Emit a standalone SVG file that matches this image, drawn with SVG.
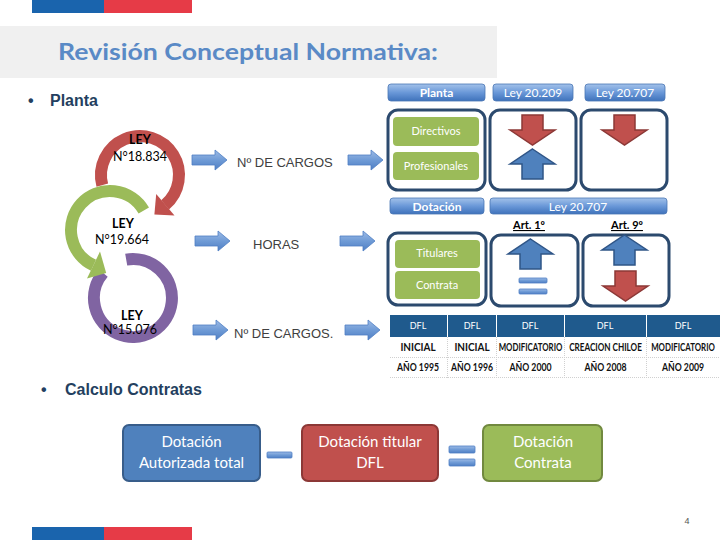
<svg xmlns="http://www.w3.org/2000/svg" width="720" height="540" viewBox="0 0 720 540">
<defs>
<linearGradient id="hdr" x1="0" y1="0" x2="0" y2="1">
<stop offset="0" stop-color="#a3c2ea"/><stop offset="0.5" stop-color="#6a98d8"/><stop offset="1" stop-color="#3f72bb"/>
</linearGradient>
<linearGradient id="arr" x1="0" y1="0" x2="0" y2="1">
<stop offset="0" stop-color="#9dbbe6"/><stop offset="0.5" stop-color="#6f9bd6"/><stop offset="1" stop-color="#4f7fc4"/>
</linearGradient>
<path id="rarrow" d="M0 5 H23 V0 L35 10 L23 20 V15 H0 Z"/>
<path id="down" d="M12 0 H33 V15 H45 L22.5 30 L0 15 H12 Z"/>
<path id="up" d="M22.5 0 L45 15 H33 V30 H12 V15 H0 Z"/>
</defs>
<style>
.t{font-family:Lato,"Liberation Sans",sans-serif}
.s{font-family:"Liberation Sans",Arial,sans-serif}
.hdr{fill:url(#hdr);stroke:#4a76b4;stroke-width:0.8}
.ht{fill:#fff;font-size:12px;text-anchor:middle}
.box{fill:#fff;stroke:#2c4a6e;stroke-width:3}
.gb{fill:#9bbb59}
.gt{fill:#fff;font-size:11px;text-anchor:middle}
.ra{fill:#c0504d;stroke:#8c3836;stroke-width:1.5}
.ba{fill:#4f81bd;stroke:#2f5587;stroke-width:1.5}
.ar{fill:url(#arr);stroke:#4f7fc4;stroke-width:0.8}
.bar{fill:url(#arr);stroke:#4f7fc4;stroke-width:0.8}
.lbl{font-size:13px;fill:#404040}
.ley{font-size:12.5px;fill:#000;text-anchor:middle}
.th{fill:#fff;font-size:9px;text-anchor:middle}
.td{fill:#111;font-size:11px;text-anchor:middle;font-weight:bold}
.bt{fill:#fff;font-size:15px;text-anchor:middle}
.bul{fill:#243f60;font-weight:bold;font-size:16px}
</style>

<!-- flag bars -->
<rect x="32" y="0" width="72" height="13" fill="#1a64ad"/>
<rect x="104" y="0" width="88" height="13" fill="#e63b47"/>
<rect x="32" y="527" width="72" height="13" fill="#1a64ad"/>
<rect x="104" y="527" width="88" height="13" fill="#e63b47"/>

<!-- title -->
<rect x="0" y="26" width="497" height="52" fill="#f0f0f0"/>
<text class="t" x="58" y="60" font-size="22" font-weight="bold" fill="#5a8ac6" textLength="380" lengthAdjust="spacingAndGlyphs">Revisión Conceptual Normativa:</text>

<!-- bullets -->
<text class="s bul" x="28" y="106" font-size="12">•</text>
<text class="s bul" x="50" y="106">Planta</text>
<text class="s bul" x="41" y="395" font-size="12">•</text>
<text class="s bul" x="65" y="395">Calculo Contratas</text>

<!-- rings -->
<g id="ring-15076">
<path d="M126.2 259.6 A39 39 0 1 1 103.1 272.9" fill="none" stroke="#8064a2" stroke-width="12"/>
</g>
<g id="ring-18834">
<path d="M102.3 185.1 A39 39 0 1 1 165.1 204.9" fill="none" stroke="#c0504d" stroke-width="12"/>
</g>
<g id="ring-19664">
<path d="M143.8 210.5 A39 39 0 1 0 93.5 265.3" fill="none" stroke="#9bbb59" stroke-width="12"/>
<polygon points="106.2,273 87,278.5 100,251.5" fill="#9bbb59"/>
</g>
<polygon points="154.4,214.5 174.5,215.5 156.2,194" fill="#c0504d"/>
<text class="t ley" x="140" y="144" font-weight="bold">LEY</text>
<text class="t ley" x="140" y="161">N°18.834</text>
<text class="t ley" x="123" y="228" font-weight="bold">LEY</text>
<text class="t ley" x="122" y="244">N°19.664</text>
<text class="t ley" x="132" y="320" font-weight="bold">LEY</text>
<text class="t ley" x="130" y="334">N°15.076</text>

<!-- connectors -->
<g id="connectors">
<use href="#rarrow" class="ar" x="192" y="150"/>
<use href="#rarrow" class="ar" x="348" y="150"/>
<use href="#rarrow" class="ar" x="195" y="231"/>
<use href="#rarrow" class="ar" x="340" y="231"/>
<use href="#rarrow" class="ar" x="193" y="320"/>
<use href="#rarrow" class="ar" x="345" y="320"/>
</g>
<text class="s lbl" x="237" y="167">Nº DE CARGOS</text>
<text class="s lbl" x="253" y="249">HORAS</text>
<text class="s lbl" x="234" y="338">Nº DE CARGOS.</text>

<!-- Planta panel -->
<g id="planta">
<rect class="hdr" x="388" y="84" width="97" height="17" rx="3"/>
<text class="t ht" x="436.5" y="97" font-weight="bold" font-size="11.5">Planta</text>
<rect class="hdr" x="493" y="84" width="80" height="17" rx="3"/>
<text class="t ht" x="533" y="97">Ley 20.209</text>
<rect class="hdr" x="585" y="84" width="80" height="17" rx="3"/>
<text class="t ht" x="625" y="97">Ley 20.707</text>
<rect class="box" x="388" y="110" width="97" height="80" rx="10"/>
<rect class="gb" x="393" y="117" width="86" height="29" rx="4"/>
<text class="t gt" x="436" y="135">Directivos</text>
<rect class="gb" x="393" y="152" width="86" height="28" rx="4"/>
<text class="t gt" x="436" y="170">Profesionales</text>
<rect class="box" x="490" y="110" width="86" height="80" rx="10"/>
<use href="#down" class="ra" x="510" y="115"/>
<use href="#up" class="ba" x="510" y="149"/>
<rect class="box" x="581" y="110" width="86" height="80" rx="10"/>
<use href="#down" class="ra" x="602" y="115"/>
</g>

<!-- Dotacion panel -->
<g id="dotacion">
<rect class="hdr" x="390" y="198" width="94" height="16" rx="3"/>
<text class="t ht" x="437" y="210.5" font-weight="bold" font-size="11.5">Dotación</text>
<rect class="hdr" x="490" y="198" width="177" height="16" rx="3"/>
<text class="t ht" x="578" y="210.5">Ley 20.707</text>
<text class="t" x="529" y="229" font-size="11" font-weight="bold" text-anchor="middle" text-decoration="underline">Art. 1º</text>
<text class="t" x="627" y="229" font-size="11" font-weight="bold" text-anchor="middle" text-decoration="underline">Art. 9º</text>
<rect class="box" x="388" y="233" width="98" height="72" rx="10"/>
<rect class="gb" x="395" y="240" width="85" height="28" rx="4"/>
<text class="t gt" x="437" y="257">Titulares</text>
<rect class="gb" x="395" y="271" width="85" height="28" rx="4"/>
<text class="t gt" x="437" y="289">Contrata</text>
<rect class="box" x="491" y="235" width="87" height="71" rx="10"/>
<use href="#up" class="ba" x="508" y="239"/>
<rect class="bar" x="519" y="278" width="28" height="5" rx="1"/>
<rect class="bar" x="519" y="289" width="28" height="5" rx="1"/>
<rect class="box" x="583" y="235" width="86" height="71" rx="10"/>
<use href="#up" class="ba" x="602" y="235"/>
<use href="#down" class="ra" x="603" y="271"/>
</g>

<!-- DFL table -->
<g id="tabla">
<rect x="390" y="315" width="330" height="22" fill="#1f5a8d"/>
<g stroke="#fff" stroke-width="1">
<line x1="447.5" y1="315" x2="447.5" y2="337"/>
<line x1="496.5" y1="315" x2="496.5" y2="337"/>
<line x1="564.5" y1="315" x2="564.5" y2="337"/>
<line x1="646.5" y1="315" x2="646.5" y2="337"/>
</g>
<g stroke="#d0d0d0" stroke-width="1" stroke-dasharray="1 1">
<line x1="390" y1="357.5" x2="720" y2="357.5"/>
<line x1="390" y1="377.5" x2="720" y2="377.5"/>
<line x1="447.5" y1="337" x2="447.5" y2="378"/>
<line x1="496.5" y1="337" x2="496.5" y2="378"/>
<line x1="564.5" y1="337" x2="564.5" y2="378"/>
<line x1="646.5" y1="337" x2="646.5" y2="378"/>
</g>
<text class="t th" x="418" y="329">DFL</text>
<text class="t th" x="472" y="329">DFL</text>
<text class="t th" x="530" y="329">DFL</text>
<text class="t th" x="605" y="329">DFL</text>
<text class="t th" x="683" y="329">DFL</text>
<text class="t td" transform="translate(418,351) scale(0.75,1)" textLength="47" lengthAdjust="spacingAndGlyphs">INICIAL</text>
<text class="t td" transform="translate(472,351) scale(0.75,1)" textLength="47" lengthAdjust="spacingAndGlyphs">INICIAL</text>
<text class="t td" transform="translate(530.5,351) scale(0.75,1)" textLength="85" lengthAdjust="spacingAndGlyphs">MODIFICATORIO</text>
<text class="t td" transform="translate(605.5,351) scale(0.75,1)" textLength="97" lengthAdjust="spacingAndGlyphs">CREACION CHILOE</text>
<text class="t td" transform="translate(683,351) scale(0.75,1)" textLength="85" lengthAdjust="spacingAndGlyphs">MODIFICATORIO</text>
<text class="t td" transform="translate(418,371) scale(0.75,1)" textLength="56" lengthAdjust="spacingAndGlyphs">AÑO 1995</text>
<text class="t td" transform="translate(472,371) scale(0.75,1)" textLength="56" lengthAdjust="spacingAndGlyphs">AÑO 1996</text>
<text class="t td" transform="translate(530.5,371) scale(0.75,1)" textLength="56" lengthAdjust="spacingAndGlyphs">AÑO 2000</text>
<text class="t td" transform="translate(605.5,371) scale(0.75,1)" textLength="56" lengthAdjust="spacingAndGlyphs">AÑO 2008</text>
<text class="t td" transform="translate(683,371) scale(0.75,1)" textLength="56" lengthAdjust="spacingAndGlyphs">AÑO 2009</text>
</g>

<!-- bottom equation -->
<g id="autorizada">
<rect x="123" y="425" width="137" height="56" rx="6" fill="#4f81bd" stroke="#385d8a" stroke-width="2"/>
<text class="t bt" x="191.5" y="447">Dotación</text>
<text class="t bt" x="191.5" y="468">Autorizada total</text>
</g>
<rect class="bar" x="267" y="452" width="25" height="6" rx="1"/>
<g id="titular">
<rect x="302" y="425" width="136" height="56" rx="6" fill="#c0504d" stroke="#8c3836" stroke-width="2"/>
<text class="t bt" x="370" y="447">Dotación titular</text>
<text class="t bt" x="370" y="468">DFL</text>
</g>
<rect class="bar" x="449" y="446" width="26" height="7" rx="1"/>
<rect class="bar" x="449" y="459" width="26" height="7" rx="1"/>
<g id="contrata">
<rect x="483" y="425" width="119" height="56" rx="6" fill="#9bbb59" stroke="#71893f" stroke-width="2"/>
<text class="t bt" x="543" y="447">Dotación</text>
<text class="t bt" x="543" y="468">Contrata</text>
</g>

<text class="s" x="687" y="524" font-size="9" fill="#555" text-anchor="middle">4</text>
</svg>
